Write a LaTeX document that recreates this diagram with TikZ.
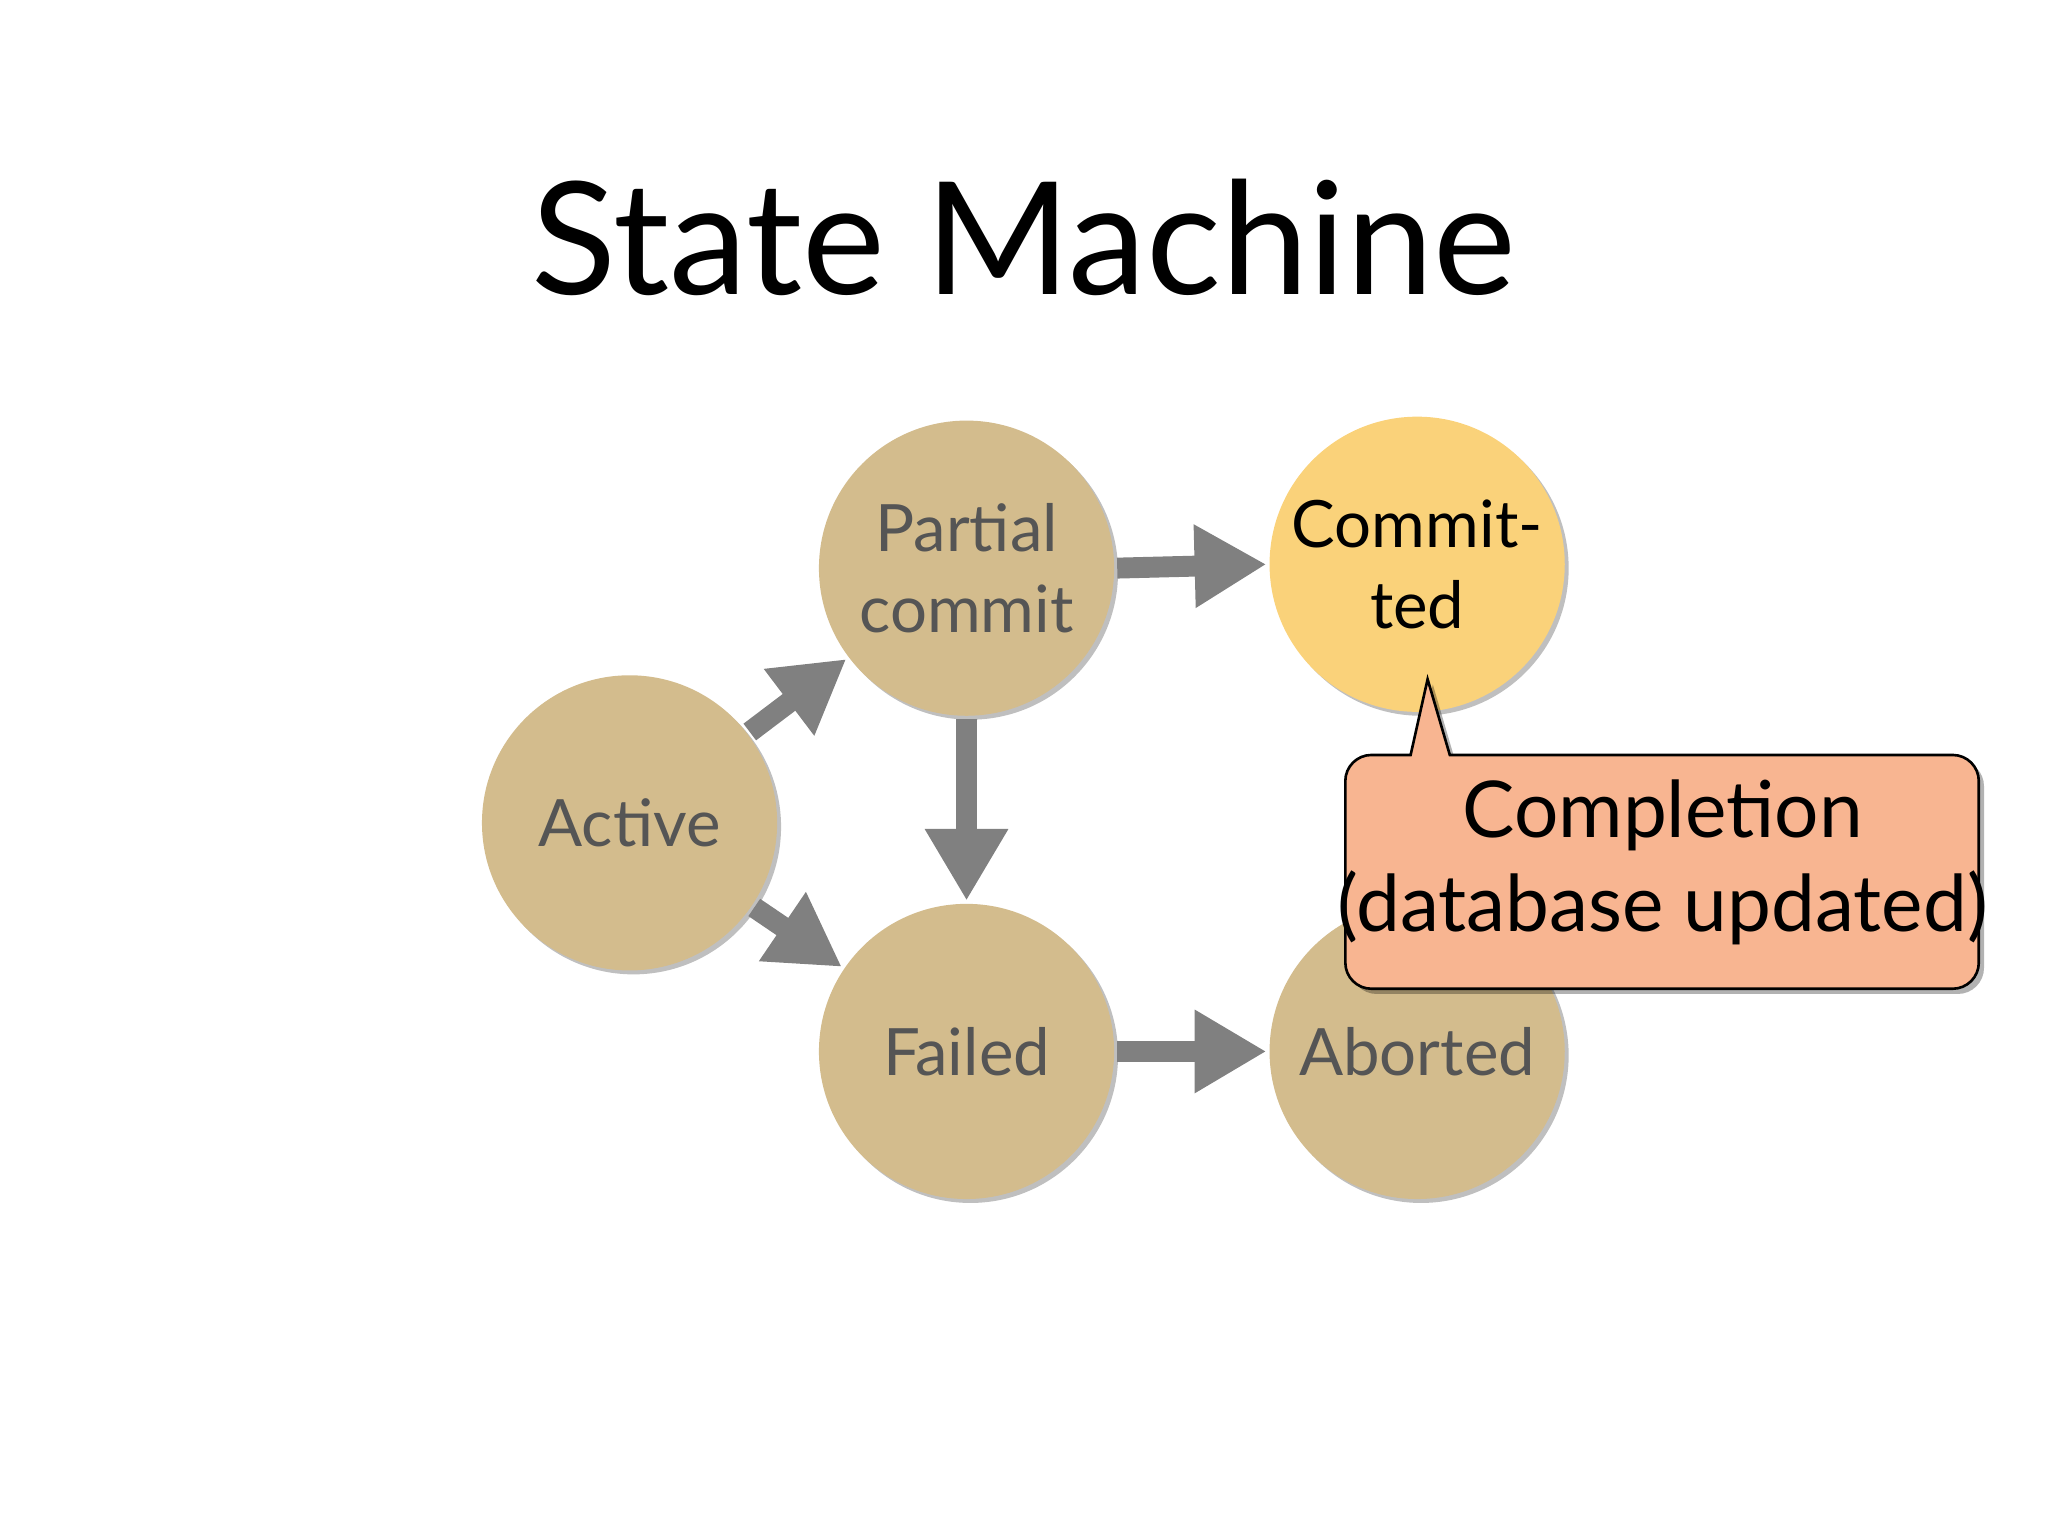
\documentclass[tikz,border=0pt]{standalone}
\usepackage{fontspec}
\setmainfont{Lato}
\usetikzlibrary{arrows.meta,shadows}
\definecolor{statefill}{HTML}{D3BC8D}
\definecolor{donefill}{HTML}{FAD27A}
\definecolor{notefill}{HTML}{F8B591}
\definecolor{arrowgray}{HTML}{808080}
\definecolor{stategray}{HTML}{555555}
\tikzset{every picture/.style={line width=0.75pt}}
\tikzset{
  state/.style={circle,minimum size=226pt,inner sep=0pt,fill=statefill,
    text=stategray,font=\fontsize{50}{62}\selectfont,align=center,
    drop shadow={shadow xshift=3pt,shadow yshift=-3pt,opacity=0.25,fill=black}},
  move/.style={draw=arrowgray,line width=16pt,shorten <=2pt,shorten >=2pt,
    -{Triangle[width=60pt,length=55pt]}}
}

\begin{document}
\begin{tikzpicture}[x=1pt,y=1pt,yscale=-1,xscale=1]
	\useasboundingbox (0,0) rectangle (1568,1176);

	% Title
	\node (title) at (784,182) {\fontsize{120}{140}\selectfont State Machine};

	% States
	\node [state] (active) at (482,630) {Active};
	\node [state] (partial) at (740,435) {Partial\\commit};
	\node [state,fill=donefill,text=black] (committed) at (1085,432) {Commit-\\ted};
	\node [state] (failed) at (740,805) {Failed};
	\node [state] (aborted) at (1085,805) {Aborted};

	% Transitions
	\draw [move] (active) -- (partial);
	\draw [move] (active) -- (failed);
	\draw [move] (partial) -- (failed);
	\draw [move] (partial.east) -- (committed.west);
	\draw [move] (failed.east) -- (aborted.west);

	% Callout
	\draw [fill=notefill,line width=2pt,
	  drop shadow={shadow xshift=4pt,shadow yshift=-4pt,opacity=0.3,fill=black}]
	  (1050,578) -- (1080,578) -- (1093,520) -- (1110,578) -- (1495,578)
	  arc (-90:0:20) -- (1515,737) arc (0:90:20) -- (1050,757)
	  arc (90:180:20) -- (1030,598) arc (180:270:20) -- cycle;
	\node [font=\fontsize{60}{72}\selectfont,align=center] (note) at (1273,660)
	  {Completion\\(database updated)};
\end{tikzpicture}
\end{document}
